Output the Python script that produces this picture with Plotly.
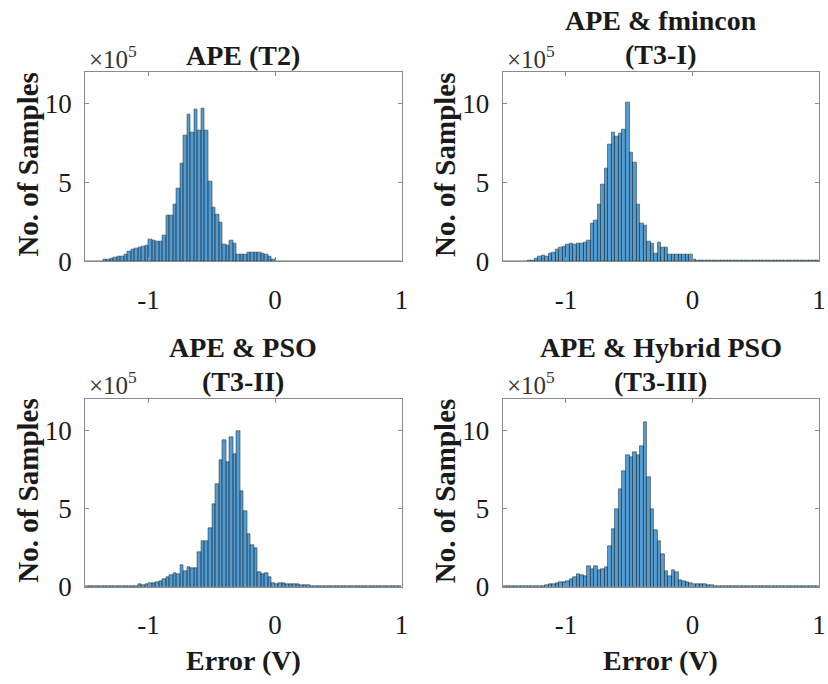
import numpy as np
import plotly.graph_objects as go

# Histogram bins (Error, V)
BIN_START = -1.5
BIN_END = 1.0
N_BINS = 90

# Counts per bin, in units of 1e5 samples
counts_t2 = [0, 0, 0, 0, 0,
             0.10, 0.13, 0.18, 0.22, 0.30, 0.28, 0.45, 0.60, 0.75, 0.80,
             0.85, 0.95, 1.00, 1.40, 1.30, 1.25, 1.25, 1.65, 2.90, 2.90,
             3.60, 4.60, 6.20, 8.00, 9.35, 8.20, 9.65, 8.30, 9.70, 8.30,
             5.10, 3.40, 3.00, 2.45, 1.05, 1.00, 1.30, 1.10, 0.40, 0.40,
             0.45, 0.53, 0.53, 0.53, 0.53, 0.50, 0.40, 0.30, 0.12, 0,
             0, 0, 0, 0, 0, 0, 0, 0, 0, 0,
             0, 0, 0, 0, 0, 0, 0, 0, 0, 0,
             0, 0, 0, 0, 0, 0, 0, 0, 0, 0,
             0, 0, 0, 0, 0]

counts_t3_1 = [0, 0, 0, 0, 0, 0, 0,
               0.04, 0.06, 0.15, 0.30, 0.35, 0.33, 0.50, 0.57, 0.74, 0.90,
               0.95, 1.05, 1.10, 1.05, 1.15, 1.10, 1.20, 1.35, 2.40, 2.60,
               3.60, 4.85, 5.90, 7.40, 8.20, 7.95, 8.15, 8.40, 10.10, 6.90,
               6.30, 3.60, 2.40, 2.30, 1.25, 1.15, 0.50, 1.20, 0.85, 0.90,
               0.45, 0.42, 0.45, 0.45, 0.45, 0.45, 0.40, 0.10,
               0.02, 0.02, 0.02, 0.02, 0.02, 0.02, 0.02, 0.02, 0.02, 0.02,
               0.02, 0.02, 0.02, 0.02, 0.02, 0.02, 0.02, 0.02, 0.02, 0.02,
               0.02, 0.02, 0.02, 0.02, 0.02, 0.02, 0.02, 0.02, 0.02, 0.02,
               0.02, 0.02, 0.02, 0.02, 0.02]

counts_t3_2 = [0.03, 0.03, 0.03, 0.03, 0.03, 0.03, 0.03, 0.03, 0.03, 0.03,
               0.03, 0.03, 0.03, 0.03, 0.03,
               0.17, 0.12, 0.18, 0.22, 0.27, 0.32, 0.38, 0.48, 0.60, 0.75,
               0.90, 0.80, 1.42, 1.00, 1.25, 1.17, 1.17, 2.25, 2.90, 2.90,
               3.75, 5.30, 6.60, 8.10, 9.40, 8.00, 9.55, 8.50, 9.96, 6.10,
               4.85, 3.40, 2.67, 2.50, 0.96, 0.80, 0.90, 0.63, 0.27, 0.20,
               0.22, 0.22, 0.20, 0.20, 0.18, 0.15, 0.12, 0.12, 0.10, 0.08,
               0.05,
               0.03, 0.03, 0.03, 0.03, 0.03, 0.03, 0.03, 0.03, 0.03, 0.03,
               0.03, 0.03, 0.03, 0.03, 0.03, 0.03, 0.03, 0.03, 0.03, 0.03,
               0.03, 0.03, 0.03, 0.03]

counts_t3_3 = [0.03, 0.03, 0.03, 0.03, 0.03, 0.03, 0.03, 0.03, 0.03, 0.03,
               0.05, 0.08, 0.10, 0.15, 0.20, 0.25, 0.28, 0.30, 0.40, 0.50,
               0.65, 0.80, 0.75, 0.70, 1.30, 1.15, 1.30, 1.10, 1.15, 1.25,
               2.60, 3.70, 5.00, 6.26, 7.40, 8.45, 8.30, 8.60, 8.45, 8.97,
               10.50, 7.00, 5.00, 3.60, 2.90, 2.10, 1.00, 0.70, 1.05, 0.95,
               0.42, 0.35, 0.30, 0.25, 0.20, 0.20, 0.20, 0.15, 0.12, 0.10,
               0.06,
               0.03, 0.03, 0.03, 0.03, 0.03, 0.03, 0.03, 0.03, 0.03, 0.03,
               0.03, 0.03, 0.03, 0.03, 0.03, 0.03, 0.03, 0.03, 0.03, 0.03,
               0.03, 0.03, 0.03, 0.03, 0.03, 0.03, 0.03, 0.03, 0.03]

series = [counts_t2, counts_t3_1, counts_t3_2, counts_t3_3]

title_lines = [["APE (T2)"],
               ["APE & fmincon", "(T3-I)"],
               ["APE & PSO", "(T3-II)"],
               ["APE & Hybrid PSO", "(T3-III)"]]

x_tick_vals = [-1, 0, 1]
x_tick_text = ["-1", "0", "1"]
y_tick_vals = [0, 5, 10]
y_tick_text = ["0", "5", "10"]
x_range = [BIN_START, BIN_END]
y_range = [0, 12]

y_title = "No. of Samples"
x_title = "Error (V)"
exponent_label = "×10<sup>5</sup>"

W, H = 828, 684
bin_w = (BIN_END - BIN_START) / N_BINS
centers = BIN_START + (np.arange(N_BINS) + 0.5) * bin_w

SERIF = "'Liberation Serif', 'Times New Roman', Times, serif"
AX_COLOR = "#8a8a8a"
TXT = "#1a1a1a"

col_px = [(86, 405), (507, 826)]
row_px = [(74, 267), (408, 600)]

fig = go.Figure()
layout = dict(
    width=W, height=H, margin=dict(l=0, r=0, t=0, b=0),
    paper_bgcolor="white", plot_bgcolor="white",
    showlegend=False, bargap=0, font=dict(family=SERIF, color=TXT),
)
annotations = []

def px2x(p):
    return p / W

def px2y(p):
    return 1 - p / H

for i, counts in enumerate(series):
    r, c = divmod(i, 2)
    n = i + 1
    xa = "x" if n == 1 else f"x{n}"
    ya = "y" if n == 1 else f"y{n}"
    fig.add_trace(go.Bar(
        x=centers, y=counts, width=bin_w, xaxis=xa, yaxis=ya,
        marker=dict(color="rgba(0,110,190,0.68)",
                    line=dict(color="rgb(35,35,35)", width=0.5)),
        hoverinfo="skip",
    ))
    x0, x1 = col_px[c]
    y0, y1 = row_px[r]
    common = dict(showline=True, linecolor=AX_COLOR, linewidth=1,
                  mirror="allticks", ticks="inside", ticklen=4,
                  tickcolor=AX_COLOR, showgrid=False, zeroline=False,
                  tickfont=dict(family=SERIF, size=27, color=TXT))
    layout["xaxis" if n == 1 else f"xaxis{n}"] = dict(
        domain=[px2x(x0), px2x(x1)], range=x_range, anchor=ya,
        tickmode="array", tickvals=x_tick_vals, ticktext=x_tick_text,
        ticklabelstandoff=14, **common)
    layout["yaxis" if n == 1 else f"yaxis{n}"] = dict(
        domain=[px2y(y1), px2y(y0)], range=y_range, anchor=xa,
        tickmode="array", tickvals=y_tick_vals, ticktext=y_tick_text,
        ticklabelstandoff=7, **common)

    cx = (x0 + x1) / 2
    lines = title_lines[i]
    if len(lines) == 1:
        ys = [y0 - 17]
    else:
        ys = [y0 - 53, y0 - 18]
    for txt, yy in zip(lines, ys):
        annotations.append(dict(
            text=f"<b>{txt}</b>", x=px2x(cx), y=px2y(yy), xref="paper", yref="paper",
            xanchor="center", yanchor="middle", showarrow=False,
            font=dict(family=SERIF, size=28, color=TXT)))
    annotations.append(dict(
        text=exponent_label, x=px2x(x0 + 2), y=px2y(y0 - 16), xref="paper", yref="paper",
        xanchor="left", yanchor="middle", showarrow=False,
        font=dict(family=SERIF, size=25, color="#333333")))
    annotations.append(dict(
        text=f"<b>{y_title}</b>", x=px2x(x0 - 58), y=px2y((y0 + y1) / 2 - 2),
        xref="paper", yref="paper", xanchor="center", yanchor="middle",
        textangle=-90, showarrow=False,
        font=dict(family=SERIF, size=29, color=TXT)))
    if r == 1:
        annotations.append(dict(
            text=f"<b>{x_title}</b>", x=px2x(cx), y=px2y(y1 + 75),
            xref="paper", yref="paper", xanchor="center", yanchor="middle",
            showarrow=False, font=dict(family=SERIF, size=28, color=TXT)))

layout["annotations"] = annotations
fig.update_layout(**layout)
fig.write_html("out.html")
